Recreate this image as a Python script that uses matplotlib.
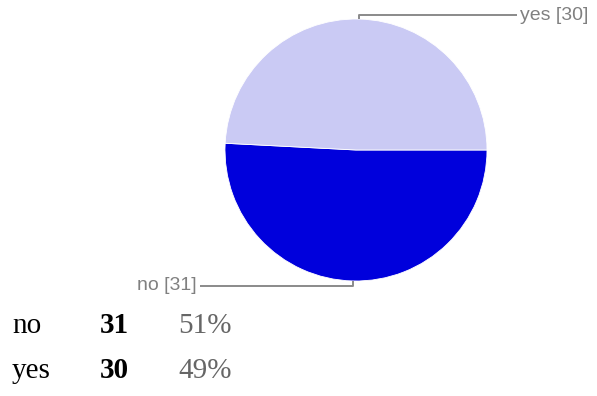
import numpy as np
import matplotlib.pyplot as plt

# -------------------------------------------------
# Data
# -------------------------------------------------
labels = ["no", "yes"]
counts = [31, 30]
colors = ["#0000DC", "#CACAF4"]

total = sum(counts)
percents = [round(100 * c / total) for c in counts]

# -------------------------------------------------
# Figure (pixel based layout, 597x396)
# -------------------------------------------------
W, H = 597, 396
fig = plt.figure(figsize=(W / 100, H / 100), dpi=100)

cx, cy, r = 356, 150, 131   # pie centre / radius in pixels (from top)
ax = fig.add_axes([(cx - r) / W, (H - cy - r) / H, 2 * r / W, 2 * r / H])
wedges, _ = ax.pie(counts, colors=colors, startangle=0, counterclock=False,
                   radius=1, wedgeprops=dict(edgecolor="white", linewidth=0.6))
ax.set_xlim(-1, 1)
ax.set_ylim(-1, 1)
ax.axis("off")

# -------------------------------------------------
# Leader lines + labels
# -------------------------------------------------
line_kw = dict(color="#8a8a8a", lw=1.4, clip_on=False, solid_capstyle="butt")
label_kw = dict(fontsize=14, color="#808080", family="Liberation Sans",
                va="center", clip_on=False)

for w, lab, n in zip(wedges, labels, counts):
    mid = np.deg2rad((w.theta1 + w.theta2) / 2)
    x0, y0 = np.cos(mid), np.sin(mid)
    if y0 > 0:
        y1 = 1 + 4 / r
        x_end = (517 - cx) / r
        ax.plot([x0, x0, x_end], [y0, y1, y1], **line_kw)
        ax.text(x_end + 3 / r, y1, f"{lab} [{n}]", ha="left", **label_kw)
    else:
        y1 = -1 - 5 / r
        x_end = (200 - cx) / r
        ax.plot([x0, x0, x_end], [y0, y1, y1], **line_kw)
        ax.text(x_end - 3 / r, y1, f"{lab} [{n}]", ha="right", **label_kw)

# -------------------------------------------------
# Summary table under the chart
# -------------------------------------------------
baselines = [333, 378]
for lab, n, p, yb in zip(labels, counts, percents, baselines):
    yf = (H - yb) / H
    fig.text(12 / W, yf, lab, fontsize=21, family="Liberation Serif",
             color="black", va="baseline")
    fig.text(100 / W, yf, str(n), fontsize=21, family="Liberation Serif",
             fontweight="bold", color="black", va="baseline")
    fig.text(178 / W, yf, f"{p}%", fontsize=21, family="Liberation Serif",
             color="#666666", va="baseline")

fig.savefig("out.png", dpi=100, facecolor="white")
